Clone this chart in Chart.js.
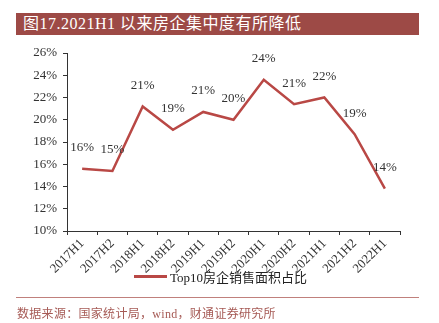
<!DOCTYPE html>
<html>
<head>
<meta charset="utf-8">
<script src="https://cdn.jsdelivr.net/npm/chart.js@4/dist/chart.umd.min.js"></script>
<style>
  body { margin: 0; width: 439px; height: 323px; position: relative; background: #fff; overflow: hidden; }
  #title {
    position: absolute; left: 16px; top: 13px; width: 403px; height: 22px;
    background: #9d4a46; color: #fff; font: 16px "Liberation Serif", "Noto Sans CJK SC", serif;
    line-height: 22px; padding-left: 7px; box-sizing: border-box; letter-spacing: 0.5px;
  }
  #chartWrap { position: absolute; left: 0; top: 0; width: 439px; height: 323px; }
  #legend {
    position: absolute; left: 134px; top: 267px; font: 13px "Liberation Serif", "Noto Sans CJK SC", serif;
    color: #222; display: flex; align-items: center;
  }
  #legend span.swatch { display: inline-block; width: 33px; height: 3px; background: #b94845; margin-right: 3px; }
  #rule { position: absolute; left: 16px; top: 297px; width: 403px; height: 1px; background: #c0807c; }
  #source {
    position: absolute; left: 17px; top: 304px; font: 12px "Liberation Serif", "Noto Sans CJK SC", serif;
    color: #a65a55; letter-spacing: 0.3px;
  }
</style>
</head>
<body>
<div id="chartWrap"><canvas id="myChart" width="439" height="323"></canvas></div>
<div id="title">图17.2021H1 以来房企集中度有所降低</div>
<div id="legend"><span class="swatch"></span>Top10房企销售面积占比</div>
<div id="rule"></div>
<div id="source">数据来源：国家统计局，wind，财通证券研究所</div>
<script>
const categories = ['2017H1', '2017H2', '2018H1', '2018H2', '2019H1', '2019H2', '2020H1', '2020H2', '2021H1', '2021H2', '2022H1']
const top10Share = [15.6, 15.4, 21.2, 19.1, 20.7, 20.0, 23.6, 21.4, 22.0, 18.7, 13.8]
const yTicks = [10, 12, 14, 16, 18, 20, 22, 24, 26]
const seriesName = 'Top10房企销售面积占比'

const serif = '"Liberation Serif", "Noto Sans CJK SC", serif'

// rounded percentage above each point
const valueLabels = {
  id: 'valueLabels',
  afterDatasetsDraw(chart) {
    const ctx = chart.ctx
    const meta = chart.getDatasetMeta(0)
    ctx.save()
    ctx.font = '13px ' + serif
    ctx.fillStyle = '#333'
    ctx.textAlign = 'center'
    ctx.textBaseline = 'middle'
    meta.data.forEach((pt, i) => {
      ctx.fillText(Math.round(top10Share[i]) + '%', pt.x, pt.y - 21)
    })
    ctx.restore()
  },
}

new Chart('myChart', {
  type: 'line',
  data: {
    labels: categories,
    datasets: [
      {
        label: seriesName,
        data: top10Share,
        borderColor: '#b94845',
        borderWidth: 2.5,
        pointRadius: 0,
        tension: 0,
        fill: false,
      },
    ],
  },
  options: {
    responsive: false,
    animation: false,
    layout: {padding: {top: 53, right: 39, left: 0, bottom: 0}},
    plugins: {
      legend: {display: false},
      tooltip: {enabled: false},
    },
    scales: {
      x: {
        offset: true,
        grid: {display: true, offset: true, drawOnChartArea: false, drawTicks: true, tickLength: 4, color: '#333'},
        border: {display: true, color: '#333', width: 1},
        ticks: {
          color: '#333',
          font: {family: serif, size: 13},
          maxRotation: 45,
          minRotation: 45,
          autoSkip: false,
          padding: 1,
        },
        afterFit: scale => { scale.height = 92 },
      },
      y: {
        min: 10,
        max: 26,
        afterBuildTicks: scale => { scale.ticks = yTicks.map(v => ({value: v})) },
        grid: {display: true, drawOnChartArea: false, drawTicks: true, tickLength: 4, color: '#333'},
        border: {display: true, color: '#333', width: 1},
        ticks: {
          color: '#333',
          font: {family: serif, size: 13},
          padding: 6,
          callback: v => v + '%',
        },
        afterFit: scale => { scale.width = 67 },
      },
    },
  },
  plugins: [valueLabels],
})
</script>
</body>
</html>
